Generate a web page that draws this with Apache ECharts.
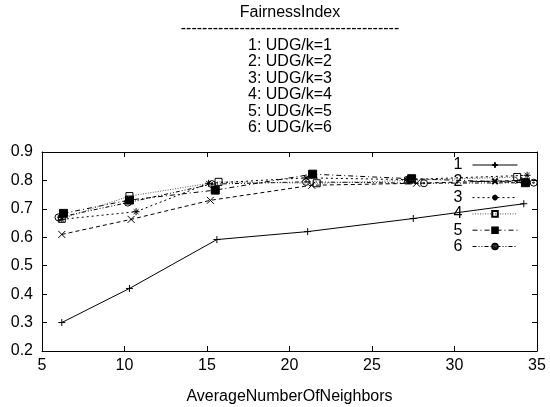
<!DOCTYPE html>
<html>
<head>
<meta charset="utf-8">
<script src="https://cdn.jsdelivr.net/npm/echarts@6/dist/echarts.min.js"></script>
<style>html,body{margin:0;padding:0;background:#fff}#c{width:550px;height:407px}</style>
</head>
<body>
<div id="c"></div>
<script>
// ---- data ----
const titleLines = ['FairnessIndex', '-----------------------------------------', '1: UDG/k=1', '2: UDG/k=2', '3: UDG/k=3', '4: UDG/k=4', '5: UDG/k=5', '6: UDG/k=6'];
const xAxisName = 'AverageNumberOfNeighbors';
const seriesNames = ['1', '2', '3', '4', '5', '6'];
const xTicks = [5, 10, 15, 20, 25, 30, 35];
const yTicks = [0.2, 0.3, 0.4, 0.5, 0.6, 0.7, 0.8, 0.9];

const s1x = [6.2, 10.3, 15.6, 21.1, 27.5, 34.2];
const s1y = [0.300, 0.420, 0.592, 0.620, 0.666, 0.718];
const s2x = [6.2, 10.4, 15.2, 21.35, 27.7, 33.9];
const s2y = [0.610, 0.663, 0.730, 0.783, 0.790, 0.800];
const s3x = [6.2, 10.7, 15.1, 21.0, 27.1, 34.4];
const s3y = [0.663, 0.690, 0.790, 0.809, 0.803, 0.818];
const s4x = [6.2, 10.3, 15.7, 21.65, 27.2, 33.8];
const s4y = [0.665, 0.745, 0.795, 0.790, 0.800, 0.812];
const s5x = [6.3, 10.3, 15.5, 21.4, 27.4, 34.3];
const s5y = [0.684, 0.731, 0.766, 0.822, 0.806, 0.792];
const s6x = [6.0, 10.2, 15.3, 21.0, 28.15, 34.8];
const s6y = [0.670, 0.722, 0.787, 0.795, 0.790, 0.792];

const xs = [s1x, s2x, s3x, s4x, s5x, s6x];
const ys = [s1y, s2y, s3y, s4y, s5y, s6y];

// ---- styles ----
const FONT = 'Liberation Sans';
const symbols = [
  'path://M0,5L10,5M5,0L5,10',
  'path://M0,0L10,10M10,0L0,10',
  'path://M0,5L10,5M5,0L5,10M1.5,1.5L8.5,8.5M8.5,1.5L1.5,8.5',
  'rect',
  'rect',
  'path://M0,5A5,5,0,1,1,10,5A5,5,0,1,1,0,5ZM4,5A1,1,0,1,1,6,5A1,1,0,1,1,4,5Z'
];
const symbolSizes = [7, 7, 7, 7, 8, 7];
const fills = ['#000', '#000', '#000', 'rgba(255,255,255,0)', '#000', 'rgba(255,255,255,0)'];
const dashes = ['solid', [4, 3], [2, 3], [1, 1.5], [5, 3, 1, 3], [4, 2, 1, 2, 1, 2]];
const lineColors = ['#000', '#000', '#000', '#555', '#000', '#000'];

const series = seriesNames.map((n, i) => ({
  name: n,
  type: 'line',
  xAxisIndex: 0,
  yAxisIndex: 0,
  data: xs[i].map((x, j) => [x, ys[i][j]]),
  symbol: symbols[i],
  symbolSize: symbolSizes[i],
  showAllSymbol: true,
  lineStyle: { color: lineColors[i], width: 1, type: dashes[i] },
  itemStyle: { color: fills[i], borderColor: '#000', borderWidth: 1 },
  emphasis: { disabled: true },
  z: 10 - i
}));

const chart = echarts.init(document.getElementById('c'), null, { renderer: 'canvas' });
const axisLine = { show: true, lineStyle: { color: '#000', width: 1 } };
const tick = { show: true, inside: true, length: 5, lineStyle: { color: '#000', width: 1 } };
chart.setOption({
  animation: false,
  backgroundColor: '#fff',
  title: {
    text: titleLines.join('\n'),
    left: 290,
    top: 4,
    textAlign: 'center',
    padding: 0,
    textStyle: { fontFamily: FONT, fontSize: 16, fontWeight: 'normal', color: '#000', lineHeight: 16.5 }
  },
  legend: {
    orient: 'vertical',
    right: 32,
    top: 157,
    padding: 0,
    align: 'right',
    itemWidth: 45,
    itemHeight: 7,
    itemGap: 0.3,
    selectedMode: false,
    data: seriesNames,
    lineStyle: { width: 1 },
    textStyle: { fontFamily: FONT, fontSize: 16, color: '#000', lineHeight: 16, padding: [0, 5, 0, 0] }
  },
  grid: { left: 42, right: 13, top: 152, bottom: 56, containLabel: false },
  xAxis: [{
    type: 'value', min: 5, max: 35, interval: 5, position: 'bottom',
    name: xAxisName, nameLocation: 'middle', nameGap: 38,
    nameTextStyle: { fontFamily: FONT, fontSize: 16, color: '#000' },
    axisLine, axisTick: tick, splitLine: { show: false },
    axisLabel: { margin: 7, fontFamily: FONT, fontSize: 16, color: '#000',
      formatter: v => xTicks.includes(Math.round(v)) ? String(Math.round(v)) : '' }
  }, {
    type: 'value', min: 5, max: 35, interval: 5, position: 'top',
    axisLine, axisTick: tick, splitLine: { show: false }, axisLabel: { show: false }
  }],
  yAxis: [{
    type: 'value', min: 0.2, max: 0.9, interval: 0.1, position: 'left',
    axisLine, axisTick: tick, splitLine: { show: false },
    axisLabel: { margin: 9, fontFamily: FONT, fontSize: 16, color: '#000',
      formatter: v => { const t = yTicks.find(y => Math.abs(y - v) < 1e-6); return t === undefined ? '' : t.toFixed(1); } }
  }, {
    type: 'value', min: 0.2, max: 0.9, interval: 0.1, position: 'right',
    axisLine, axisTick: tick, splitLine: { show: false }, axisLabel: { show: false }
  }],
  series
});
</script>
</body>
</html>
